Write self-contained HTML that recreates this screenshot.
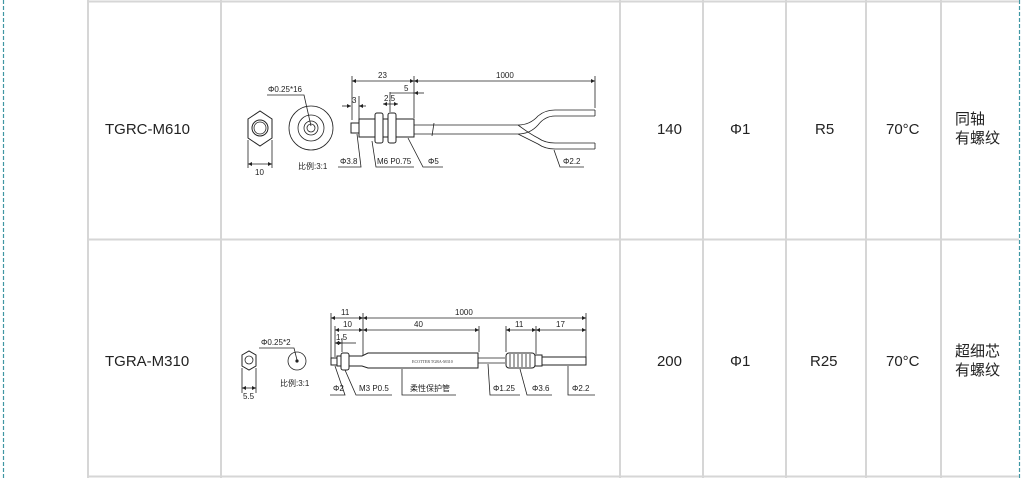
<!DOCTYPE html>
<html><head><meta charset="utf-8"><style>
html,body{margin:0;padding:0;background:#fff}
svg{display:block}
.t{font-family:"Liberation Sans","Noto Sans CJK SC",sans-serif;font-size:15px;fill:#222}
.s{font-family:"Liberation Sans","Noto Sans CJK SC",sans-serif;font-size:8px;fill:#222}
.d{stroke:#222;stroke-width:0.8;fill:none}
.p{stroke:#222;stroke-width:1;fill:#fff}
</style></head><body>
<svg width="1025" height="478" viewBox="0 0 1025 478" xmlns="http://www.w3.org/2000/svg">
<defs><marker id="a" viewBox="0 0 6 6" refX="6" refY="3" markerWidth="5" markerHeight="5" orient="auto-start-reverse"><path d="M0,0L6,3L0,6z" fill="#222"/></marker></defs>
<line x1="3.5" y1="0" x2="3.5" y2="478" stroke="#3f97a3" stroke-width="1.2" stroke-dasharray="4,2"/>
<line x1="1019.5" y1="0" x2="1019.5" y2="478" stroke="#3f97a3" stroke-width="1.2" stroke-dasharray="4,2"/>
<g stroke="#d6d6d6" stroke-width="2">
<line x1="87" y1="1.5" x2="1019" y2="1.5"/><line x1="87" y1="239.5" x2="1019" y2="239.5"/><line x1="87" y1="476.5" x2="1019" y2="476.5"/>
<line x1="88" y1="0" x2="88" y2="478"/><line x1="221" y1="0" x2="221" y2="478"/><line x1="620" y1="0" x2="620" y2="478"/>
<line x1="703" y1="0" x2="703" y2="478"/><line x1="786" y1="0" x2="786" y2="478"/><line x1="866" y1="0" x2="866" y2="478"/><line x1="941" y1="0" x2="941" y2="478"/>
</g>
<text class="t" x="105" y="134">TGRC-M610</text>
<text class="t" x="682" y="134" text-anchor="end">140</text>
<text class="t" x="730" y="134">Φ1</text>
<text class="t" x="815" y="134">R5</text>
<text class="t" x="886" y="134">70°C</text>
<text class="t" x="955" y="124">同轴</text><text class="t" x="955" y="143">有螺纹</text>
<text class="t" x="105" y="366">TGRA-M310</text>
<text class="t" x="682" y="366" text-anchor="end">200</text>
<text class="t" x="730" y="366">Φ1</text>
<text class="t" x="810" y="366">R25</text>
<text class="t" x="886" y="366">70°C</text>
<text class="t" x="955" y="356">超细芯</text><text class="t" x="955" y="375">有螺纹</text>
<!-- row1 drawing -->
<polygon class="p" points="248,119 260,111 272,119 272,138 260,146 248,138"/>
<circle class="p" cx="260" cy="128" r="8"/><circle class="d" cx="260" cy="128" r="6"/>
<line class="d" x1="248" y1="140" x2="248" y2="168"/><line class="d" x1="272" y1="140" x2="272" y2="168"/>
<line class="d" x1="248" y1="164" x2="272" y2="164" marker-start="url(#a)" marker-end="url(#a)"/>
<text class="s" x="255" y="175">10</text>
<circle class="d" cx="311" cy="128" r="22"/><circle class="d" cx="311" cy="128" r="13"/><circle class="d" cx="311" cy="128" r="7" stroke-width="1.5"/><circle class="d" cx="311" cy="128" r="4"/>
<text class="s" x="268" y="92">Φ0.25*16</text>
<polyline class="d" points="267,95 304,95 311,126"/>
<text class="s" x="298" y="169">比例:3:1</text>
<rect class="p" x="351" y="123" width="8" height="10"/>
<rect class="p" x="359" y="119" width="55" height="18"/>
<rect class="p" x="375" y="113" width="8" height="30" rx="2"/>
<rect class="p" x="388" y="113" width="8" height="30" rx="2"/>
<path class="d" d="M414,125H518Q530,125 538,116Q545,110 555,110H595 M414,134H518Q530,134 538,125Q545,116 555,116H595 M518,125Q530,134 538,138Q545,143 555,143H595 M518,134Q530,140 538,144Q545,149 555,149H595 M595,110V116 M595,143V149"/>
<line class="d" x1="434" y1="123" x2="432" y2="136"/>
<line class="d" x1="352" y1="76" x2="352" y2="120"/><line class="d" x1="414" y1="76" x2="414" y2="118"/><line class="d" x1="595" y1="76" x2="595" y2="108"/>
<line class="d" x1="352" y1="81" x2="414" y2="81" marker-start="url(#a)" marker-end="url(#a)"/>
<line class="d" x1="414" y1="81" x2="595" y2="81" marker-start="url(#a)" marker-end="url(#a)"/>
<text class="s" x="378" y="78">23</text><text class="s" x="496" y="78">1000</text>
<line class="d" x1="390" y1="92" x2="390" y2="112"/>
<line class="d" x1="390" y1="93" x2="414" y2="93"/><line class="d" x1="414" y1="93" x2="424" y2="93" marker-start="url(#a)"/>
<text class="s" x="404" y="91">5</text>
<line class="d" x1="383" y1="104" x2="398" y2="104" marker-start="url(#a)" marker-end="url(#a)"/>
<text class="s" x="384" y="101">2.5</text>
<line class="d" x1="359" y1="96" x2="359" y2="120"/>
<line class="d" x1="342" y1="106" x2="351" y2="106" marker-end="url(#a)"/><line class="d" x1="359" y1="106" x2="366" y2="106" marker-start="url(#a)"/>
<text class="s" x="352" y="103">3</text>
<text class="s" x="340" y="164">Φ3.8</text><polyline class="d" points="338,167 361,167 357,134"/>
<text class="s" x="377" y="164">M6 P0.75</text><polyline class="d" points="414,167 376,167 372,141"/>
<text class="s" x="428" y="164">Φ5</text><polyline class="d" points="443,167 423,167 408,138"/>
<text class="s" x="563" y="164">Φ2.2</text><polyline class="d" points="584,167 560,167 554,150"/>
<!-- row2 drawing -->
<polygon class="p" points="242,355 249,351 256,355 256,366 249,370 242,366"/>
<circle class="d" cx="249" cy="360" r="4"/>
<line class="d" x1="242" y1="368" x2="242" y2="393"/><line class="d" x1="256" y1="368" x2="256" y2="393"/>
<line class="d" x1="242" y1="388" x2="256" y2="388" marker-start="url(#a)" marker-end="url(#a)"/>
<text class="s" x="243" y="399">5.5</text>
<circle class="d" cx="297" cy="361" r="9"/><circle cx="297" cy="361" r="1.6" fill="#222"/>
<text class="s" x="261" y="345">Φ0.25*2</text><polyline class="d" points="259,348 294,348 297,360"/>
<text class="s" x="280" y="386">比例:3:1</text>
<rect class="p" x="331" y="358" width="6" height="7"/>
<path class="p" d="M337,356H362L368,353H478V368H368L362,366H337Z"/>
<rect class="p" x="341" y="353" width="8" height="17" rx="2"/>
<path class="d" d="M478,358H505M478,363H505"/>
<rect class="p" x="506" y="353" width="29" height="15" rx="3"/>
<path class="d" d="M510,354V367M514,354V367M518,354V367M522,354V367M526,354V367M530,354V367"/>
<path class="p" d="M535,355H542V366H535Z"/>
<rect class="p" x="542" y="357" width="44" height="8"/>
<text x="412" y="363" font-family="Liberation Serif,serif" font-size="4" fill="#333">ECOTTER TGRA-M310</text>
<line class="d" x1="331" y1="313" x2="331" y2="358"/><line class="d" x1="363" y1="313" x2="363" y2="355"/><line class="d" x1="586" y1="313" x2="586" y2="357"/>
<line class="d" x1="331" y1="318" x2="363" y2="318" marker-start="url(#a)" marker-end="url(#a)"/>
<line class="d" x1="363" y1="318" x2="586" y2="318" marker-start="url(#a)" marker-end="url(#a)"/>
<text class="s" x="341" y="315">11</text><text class="s" x="455" y="315">1000</text>
<line class="d" x1="335" y1="326" x2="335" y2="357"/>
<line class="d" x1="335" y1="330" x2="363" y2="330" marker-start="url(#a)" marker-end="url(#a)"/>
<line class="d" x1="363" y1="330" x2="479" y2="330" marker-start="url(#a)" marker-end="url(#a)"/>
<line class="d" x1="479" y1="326" x2="479" y2="352"/>
<text class="s" x="343" y="327">10</text><text class="s" x="414" y="327">40</text>
<line class="d" x1="342" y1="338" x2="342" y2="352"/>
<line class="d" x1="335" y1="343" x2="342" y2="343" marker-start="url(#a)" marker-end="url(#a)"/>
<line class="d" x1="342" y1="343" x2="356" y2="343"/>
<text class="s" x="336" y="340">1.5</text>
<line class="d" x1="506" y1="326" x2="506" y2="352"/><line class="d" x1="536" y1="326" x2="536" y2="354"/>
<line class="d" x1="506" y1="330" x2="536" y2="330" marker-start="url(#a)" marker-end="url(#a)"/>
<line class="d" x1="536" y1="330" x2="586" y2="330" marker-start="url(#a)" marker-end="url(#a)"/>
<text class="s" x="515" y="327">11</text><text class="s" x="556" y="327">17</text>
<text class="s" x="333" y="391">Φ2</text><polyline class="d" points="330,395 345,395 335,366"/>
<text class="s" x="359" y="391">M3 P0.5</text><polyline class="d" points="392,395 356,395 345,370"/>
<text class="s" x="410" y="391">柔性保护管</text><polyline class="d" points="456,395 402,395 402,369"/>
<text class="s" x="493" y="391">Φ1.25</text><polyline class="d" points="520,395 490,395 488,364"/>
<text class="s" x="532" y="391">Φ3.6</text><polyline class="d" points="552,395 527,395 520,369"/>
<text class="s" x="572" y="391">Φ2.2</text><polyline class="d" points="595,395 568,395 568,366"/>
</svg>
</body></html>
